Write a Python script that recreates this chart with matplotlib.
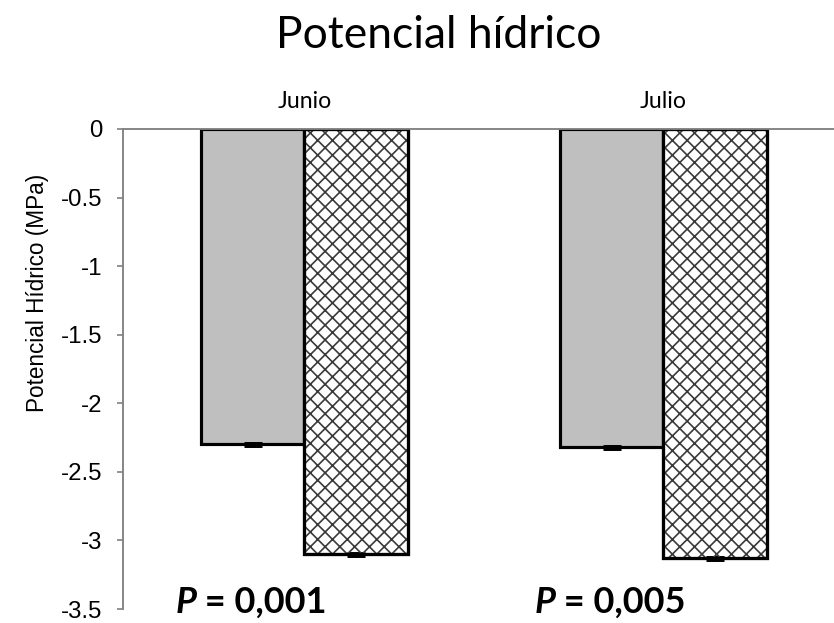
import matplotlib
matplotlib.use("Agg")
import matplotlib.pyplot as plt
import numpy as np

months = ["Junio", "Julio"]
series_a = [-2.30, -2.32]   # gray bars
series_b = [-3.10, -3.13]   # hatched bars
err_a = [0.01, 0.01]
err_b = [0.01, 0.01]
p_labels = ["0,001", "0,005"]
yticks = [0, -0.5, -1, -1.5, -2, -2.5, -3, -3.5]
ytick_labels = ["0", "-0.5", "-1", "-1.5", "-2", "-2.5", "-3", "-3.5"]

DPI = 400 / 3
plt.rcParams['hatch.linewidth'] = 0.9
fig = plt.figure(figsize=(834 / DPI, 623 / DPI), dpi=DPI)
ax = fig.add_axes([123 / 834, 1 - 609 / 623, 1 - 123 / 834, (609 - 129) / 623])

x = np.arange(len(months))
w = 0.287
ekw = dict(ecolor="black", capsize=5, elinewidth=1.2, capthick=1.6)
ax.bar(x - w / 2, series_a, w, color="#bfbfbf", edgecolor="black", linewidth=1.7,
       yerr=err_a, error_kw=ekw, zorder=2)
ax.bar(x + w / 2, series_b, w, color="white", edgecolor="black", linewidth=1.7,
       yerr=err_b, error_kw=ekw, zorder=2)
# hatch overlay with dark gray lines
ax.bar(x + w / 2, series_b, w, color="none", edgecolor="#3a3a3a", linewidth=0, hatch="xxx", zorder=2.5)
ax.bar(x + w / 2, series_b, w, color="none", edgecolor="black", linewidth=1.7, zorder=3)

ax.set_xlim(-0.5055, 1.475)
ax.set_ylim(-3.5, 0)
ax.set_yticks(yticks)
ax.set_yticklabels(ytick_labels, fontfamily="Liberation Sans", fontsize=13)
ax.tick_params(axis="y", direction="out", length=3.2, width=0.9, color="#808080", pad=8)
ax.xaxis.tick_top()
ax.set_xticks(x)
ax.set_xticklabels(months, fontfamily="Lato", fontsize=12.5)
ax.tick_params(axis="x", length=0, pad=9)

for s in ["right", "bottom"]:
    ax.spines[s].set_visible(False)
for s in ["left", "top"]:
    ax.spines[s].set_color("#808080")
    ax.spines[s].set_linewidth(1.0)
ax.spines["top"].set_zorder(4)

ax.set_ylabel("Potencial Hídrico (MPa)", fontfamily="Liberation Sans", fontsize=12.2)
ax.yaxis.set_label_coords(-0.104, (609 - 293) / 480)

fig.text(0.526, 1 - 35 / 623, "Potencial hídrico", ha="center", va="center",
         fontfamily="Lato", fontsize=24)

for i, p in enumerate(p_labels):
    t1 = ax.text(x[i] - 0.36, -3.45, "P", fontfamily="Lato", fontweight="bold", fontstyle="italic",
                 fontsize=19.5, ha="left", va="center")
    ax.annotate(" = " + p, xycoords=t1, xy=(1, 0), va="bottom", ha="left",
                fontfamily="Lato", fontweight="bold", fontsize=19.5)

fig.savefig("out.png", dpi=DPI)
